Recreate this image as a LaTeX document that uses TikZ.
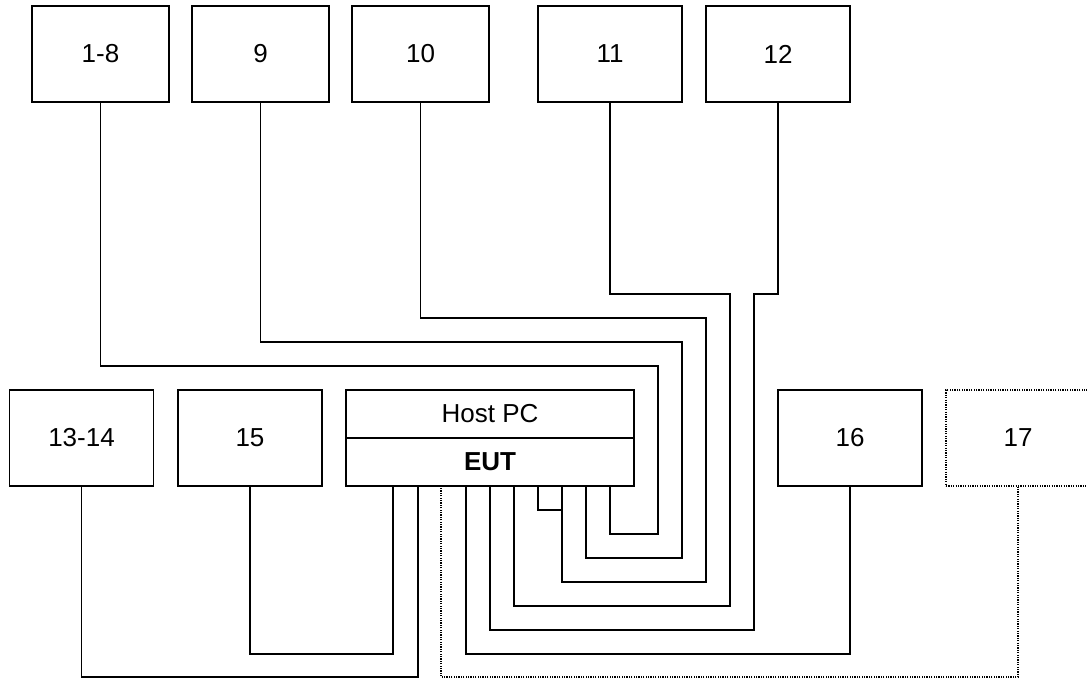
\documentclass[tikz,border=0pt]{standalone}
\usepackage{fontspec}
\setmainfont{Liberation Sans}
\begin{document}
\begin{tikzpicture}[x=1pt,y=-1pt,
  box/.style={draw,line width=1.8pt,minimum width=144pt,minimum height=96pt,inner sep=0pt,font=\fontsize{26}{30}\selectfont},
  narrow/.style={minimum width=137pt},
  half/.style={draw,line width=1.8pt,minimum width=288pt,minimum height=48pt,inner sep=0pt,font=\fontsize{26}{30}\selectfont},
  wire/.style={line width=1.8pt},
  dotbox/.style={draw,line width=1.2pt,dash pattern=on 1.2pt off 1.2pt,minimum width=144pt,minimum height=96pt,inner sep=0pt,font=\fontsize{26}{30}\selectfont},
  dotwire/.style={line width=1.2pt,dash pattern=on 1.2pt off 1.2pt}]
\useasboundingbox (0,0) rectangle (1087,679);
\clip (0,0) rectangle (1087,679);
\fill[white] (0,0) rectangle (1087,679);
% top row
\node[box,narrow] (n18) at (100.5,54) {1-8};
\node[box,narrow] (n9) at (260.5,54) {9};
\node[box,narrow] (n10) at (420.5,54) {10};
\node[box] (n11) at (610,54) {11};
\node[box] (n12) at (778,54) {12};
% bottom row
\node[box] (n1314) at (81.5,438) {13-14};
\node[box] (n15) at (250,438) {15};
\node[half] (host) at (490,414) {Host PC};
\node[half,font=\fontsize{26}{30}\selectfont\bfseries] (eut) at (490,462) {EUT};
\node[box] (n16) at (850,438) {16};
\node[dotbox] (n17) at (1018,438) {17};
% attachment points on EUT
\coordinate (e15) at (393,486);
\coordinate (e1314) at (418,486);
\coordinate (e17) at (441,486);
\coordinate (e16) at (466,486);
\coordinate (e12) at (490,486);
\coordinate (e11) at (514,486);
\coordinate (e10b) at (538,486);
\coordinate (e10) at (562,486);
\coordinate (e9) at (586,486);
\coordinate (e18) at (610,486);
% bends
\coordinate (b18) at (658,366);
\coordinate (b9) at (682,342);
\coordinate (b10) at (706,318);
\coordinate (b11) at (730,294);
\coordinate (b12) at (754,294);
% wires
\draw[wire] (n18.south) |- (b18) |- (610,534) -- (e18);
\draw[wire] (n9.south) |- (b9) |- (586,558) -- (e9);
\draw[wire] (n10.south) |- (b10) |- (562,582) -- (e10);
\draw[wire] (e10b) |- (562,510);
\draw[wire] (n11.south) |- (b11) |- (514,606) -- (e11);
\draw[wire] (n12.south) |- (b12) |- (490,630) -- (e12);
\draw[wire] (n16.south) |- (466,654) -- (e16);
\draw[dotwire] (n17.south) |- (441,677) -- (e17);
\draw[wire] (n15.south) |- (393,654) -- (e15);
\draw[wire] (n1314.south) |- (418,677) -- (e1314);
\end{tikzpicture}
\end{document}
